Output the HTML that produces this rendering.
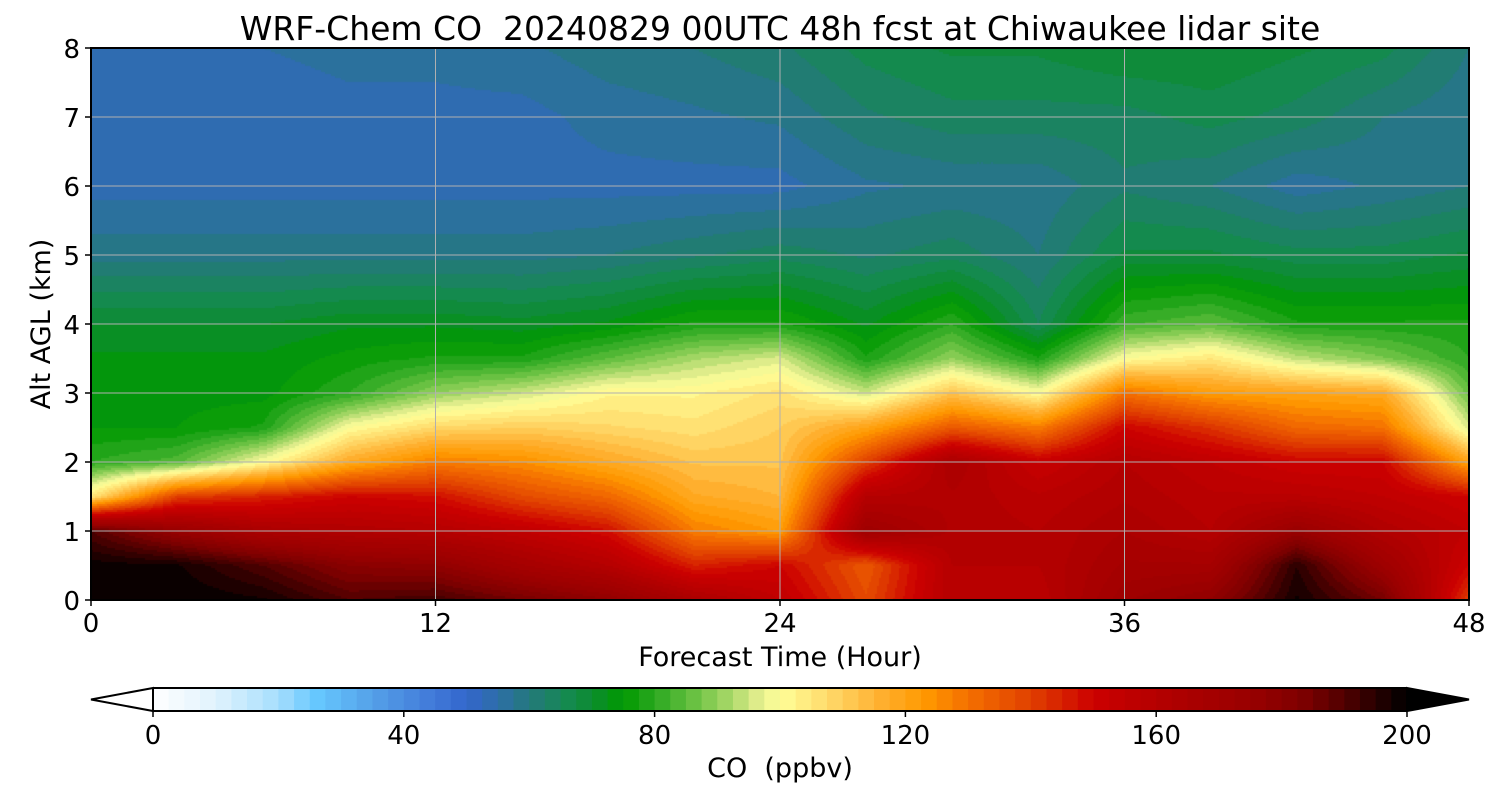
<!DOCTYPE html>
<html><head><meta charset="utf-8"><style>
body{margin:0;background:#fff;width:1500px;height:800px;overflow:hidden;font-family:"DejaVu Sans","Liberation Sans",sans-serif}
#wrap{position:relative;width:1500px;height:800px}
canvas{position:absolute;left:91px;top:48px}
svg{position:absolute;left:0;top:0;font-family:"DejaVu Sans","Liberation Sans",sans-serif}
svg text{white-space:pre}
</style></head><body>
<div id="wrap">
<canvas id="cv" width="1378" height="552"></canvas>
<svg id="sv" width="1500" height="800"></svg>
</div>
<script>
// data
const times=[0,3,6,9,12,15,18,21,24,27,30,33,36,39,42,45,48];
const heights=[0,0.5,1,1.5,2,2.5,3,3.5,4,5,6,7,8];
const coValues=[
[200,199,190,105,80,75,74,73,70,59,54,53,53],
[200,198,175,140,84,75,74,73,70,59,54,53,54],
[198,190,165,145,100,78,74,73,70,59,54,53,55],
[190,180,162,150,118,100,80,76,72,59,54,54,56],
[192,178,160,148,128,108,90,78,72,59,54,54,56],
[185,168,155,138,125,110,95,78,71,59,54,54,57],
[178,160,148,132,118,108,102,85,73,60,54,56,59],
[165,145,128,118,112,106,102,92,78,62,54,57,60],
[155,150,122,115,112,110,106,96,78,64,54,58,62],
[138,135,172,160,140,120,95,78,72,62,57,62,66],
[160,160,162,162,165,135,112,90,80,64,58,64,68],
[158,160,160,158,152,128,100,78,65,60,58,64,68],
[172,168,165,162,160,150,130,100,82,68,62,64,70],
[178,168,160,158,155,142,122,105,85,68,60,66,70],
[198,195,175,158,150,132,120,94,78,66,56,64,68],
[185,172,162,155,150,130,118,88,78,66,58,60,66],
[140,150,155,150,120,96,86,80,78,68,60,58,60]];
const xTicks=[0,12,24,36,48];
const yTicks=[0,1,2,3,4,5,6,7,8];
const cbTicks=[0,40,80,120,160,200];
const cmapV=[0,10,20,26,35,45,50,55,60,66,70,75,80,86,92,97,100,108,116,123,130,140,150,162,175,183,190,196,200];
const cmapC=["#ffffff","#e0f2fd","#a6defd","#66c8ff","#55a0e8","#4078d8","#3366cc","#2d6ea8","#24787c","#158a50","#0c8c30","#009900","#2aa820","#66c040","#a8d868","#e8f090","#ffff99","#ffd868","#ffb030","#ff9900","#f47000","#e04000","#cc0000","#b00000","#990000","#800000","#500000","#200000","#000000"];

const PX=91,PY=48,PW=1378,PH=552;
const xs=t=>PX+t/48*PW, ys=h=>PY+PH-h/8*PH;
function hex(c){return [parseInt(c.slice(1,3),16),parseInt(c.slice(3,5),16),parseInt(c.slice(5,7),16)];}
function color(v){v=Math.max(0,Math.min(200,v));
 for(let i=0;i<cmapV.length-1;i++){if(v<=cmapV[i+1]){const f=(v-cmapV[i])/(cmapV[i+1]-cmapV[i]);const a=hex(cmapC[i]),b=hex(cmapC[i+1]);return a.map((x,k)=>Math.round(x+(b[k]-x)*f));}}
 return [0,0,0];}
function seg(arr,v){for(let i=0;i<arr.length-1;i++)if(v<=arr[i+1])return [i,(v-arr[i])/(arr[i+1]-arr[i])];return [arr.length-2,1];}
function val(t,h){const [i,fi]=seg(times,t),[j,fj]=seg(heights,h);
 const a=coValues[i][j],b=coValues[i][j+1],c=coValues[i+1][j],d=coValues[i+1][j+1];
 return (a*(1-fj)+b*fj)*(1-fi)+(c*(1-fj)+d*fj)*fi;}
const ctx=document.getElementById('cv').getContext('2d');
const S=2;
for(let px=0;px<PW;px+=S){for(let py=0;py<PH;py+=S){
 const t=(px+S/2)/PW*48,h=(PH-py-S/2)/PH*8;
 let v=Math.floor(val(t,h)/2.5)*2.5+1.25;
 const c=color(v);ctx.fillStyle=`rgb(${c[0]},${c[1]},${c[2]})`;ctx.fillRect(px,py,S,S);}}

const sv=document.getElementById('sv');const NS='http://www.w3.org/2000/svg';
function el(tag,attrs,txt){const e=document.createElementNS(NS,tag);for(const k in attrs)e.setAttribute(k,attrs[k]);if(txt!==undefined)e.textContent=txt;sv.appendChild(e);return e;}
xTicks.forEach(t=>{
 const g=el('line',{x1:xs(t),x2:xs(t),y1:PY,y2:PY+PH,stroke:'#b0b0b0','stroke-width':1});
 
 const tk=el('line',{x1:xs(t),x2:xs(t),y1:PY+PH,y2:PY+PH+6,stroke:'#000','stroke-width':1.5});
 
 const l=el('text',{x:xs(t),y:632,'font-size':26,'text-anchor':'middle'},t);
 
});
yTicks.forEach(h=>{
 const g=el('line',{x1:PX,x2:PX+PW,y1:ys(h),y2:ys(h),stroke:'#b0b0b0','stroke-width':1});
 
 const tk=el('line',{x1:PX-6,x2:PX,y1:ys(h),y2:ys(h),stroke:'#000','stroke-width':1.5});
 
 const l=el('text',{x:80,y:ys(h)+10,'font-size':26,'text-anchor':'end'},h);
 
});
const fr=el('rect',{x:PX,y:PY,width:PW,height:PH,fill:'none',stroke:'#000','stroke-width':2});

const ti=el('text',{x:780,y:40,'font-size':33,'text-anchor':'middle'},'WRF-Chem CO  20240829 00UTC 48h fcst at Chiwaukee lidar site');

const xl=el('text',{x:780,y:666,'font-size':27,'text-anchor':'middle'},'Forecast Time (Hour)');

const yl=el('text',{x:0,y:0,'font-size':27,'text-anchor':'middle',transform:'translate(50,324) rotate(-90)'},'Alt AGL (km)');


const CX0=153,CX1=1407,CY=688,CH=23;const cx=v=>CX0+v/200*(CX1-CX0);
for(let v=0;v<200;v+=2.5){const c=color(v+1.25);
 const r=el('rect',{x:cx(v),y:CY,width:cx(v+2.5)-cx(v)+0.5,height:CH,fill:`rgb(${c[0]},${c[1]},${c[2]})`});
 }
const lt=el('polygon',{points:`${CX0},${CY} 91,${CY+CH/2} ${CX0},${CY+CH}`,fill:'#fff',stroke:'#000','stroke-width':2});

const rt=el('polygon',{points:`${CX1},${CY} 1469,${CY+CH/2} ${CX1},${CY+CH}`,fill:'#000',stroke:'#000','stroke-width':2});

const cb=el('path',{d:`M${CX0},${CY}H${CX1} M${CX0},${CY+CH}H${CX1}`,stroke:'#000','stroke-width':2,fill:'none'});

cbTicks.forEach(v=>{
 const tk=el('line',{x1:cx(v),x2:cx(v),y1:CY+CH,y2:CY+CH+6,stroke:'#000','stroke-width':1.5});
 
 const l=el('text',{x:cx(v),y:744,'font-size':26,'text-anchor':'middle'},v);
 
});
const cl=el('text',{x:780,y:777,'font-size':27,'text-anchor':'middle'},'CO  (ppbv)');

</script>
</body></html>
